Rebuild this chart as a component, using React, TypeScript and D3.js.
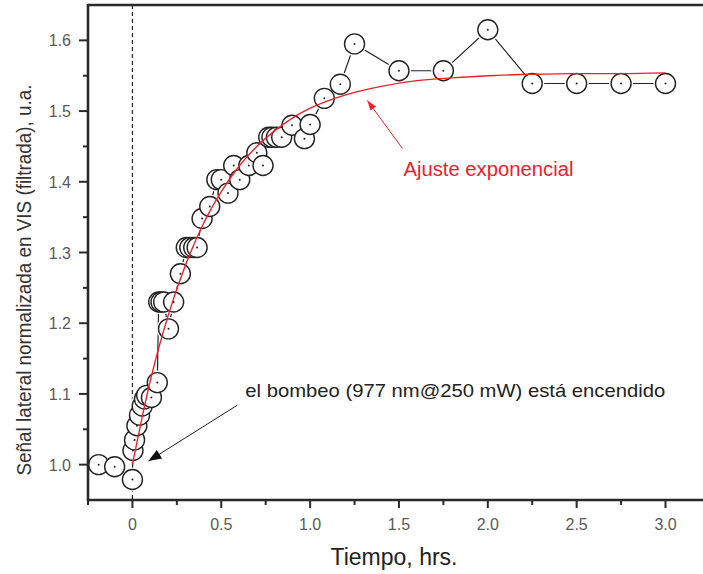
import React from "react";
import * as d3 from "d3";

// ---- data ----
const timeHrs = [
  -0.19, -0.1, 0.0, 0.003, 0.012, 0.025, 0.04, 0.055, 0.068, 0.08, 0.107, 0.14,
  0.148, 0.161, 0.176, 0.203, 0.232, 0.27, 0.303, 0.323, 0.345, 0.364,
  0.392, 0.435, 0.475, 0.5, 0.538, 0.57, 0.604, 0.655, 0.7, 0.735,
  0.767, 0.785, 0.81, 0.84, 0.898, 0.968, 1.0, 1.08, 1.17, 1.25,
  1.5, 1.75, 2.0, 2.25, 2.5, 2.75, 3.0,
];
const signal = [
  1.0, 0.997, 0.979, 1.02, 1.035, 1.055, 1.07, 1.083, 1.093, 1.098, 1.095, 1.116,
  1.23, 1.23, 1.23, 1.192, 1.23, 1.27, 1.307, 1.307, 1.307, 1.307,
  1.348, 1.365, 1.403, 1.403, 1.384, 1.423, 1.403, 1.423, 1.441, 1.423,
  1.463, 1.463, 1.463, 1.463, 1.48, 1.461, 1.481, 1.518, 1.538, 1.595,
  1.557, 1.557, 1.615, 1.539, 1.539, 1.539, 1.539,
];
const fitTime = [0, 0.1, 0.2, 0.3, 0.4, 0.5, 0.6, 0.7, 0.8, 0.9, 1.0, 1.2, 1.4, 1.6, 1.8, 2.0, 2.25, 2.5, 2.75, 3.0];
const fitSignal = [1.0, 1.118, 1.21, 1.283, 1.341, 1.386, 1.422, 1.45, 1.472, 1.49, 1.504, 1.523, 1.535, 1.543, 1.547, 1.55, 1.552, 1.553, 1.553, 1.554];

const xMajorTicks = [0, 0.5, 1.0, 1.5, 2.0, 2.5, 3.0];
const xTickLabels = ["0", "0.5", "1.0", "1.5", "2.0", "2.5", "3.0"];
const xMinorTicks = [-0.25, 0.25, 0.75, 1.25, 1.75, 2.25, 2.75];
const yMajorTicks = [1.0, 1.1, 1.2, 1.3, 1.4, 1.5, 1.6];
const yTickLabels = ["1.0", "1.1", "1.2", "1.3", "1.4", "1.5", "1.6"];
const yMinorTicks = [1.05, 1.15, 1.25, 1.35, 1.45, 1.55];

const xTitle = "Tiempo, hrs.";
const yTitle = "Señal lateral normalizada en VIS (filtrada), u.a.";
const pumpNote = "el bombeo (977 nm@250 mW) está encendido";
const fitNote = "Ajuste exponencial";

const W = 703;
const H = 574;
const FONT = "'Liberation Sans', Arial, Helvetica, sans-serif";

function arrowHead(tx: number, ty: number, fx: number, fy: number, len: number, half: number) {
  const dx = tx - fx;
  const dy = ty - fy;
  const d = Math.sqrt(dx * dx + dy * dy);
  const ux = dx / d;
  const uy = dy / d;
  const bx = tx - ux * len;
  const by = ty - uy * len;
  const px = -uy;
  const py = ux;
  return `M${tx},${ty}L${bx + px * half},${by + py * half}L${bx - px * half},${by - py * half}Z`;
}

export default function App() {
  const x = d3.scaleLinear().domain([-0.25, 3.0]).range([88, 665.5]);
  const y = d3.scaleLinear().domain([0.95, 1.65]).range([500, 5]);
  const left = x(-0.25);
  const top = y(1.65);
  const bottom = y(0.95);
  const right = W;

  const pts = timeHrs.map((t, i) => [x(t), y(signal[i])] as [number, number]);
  const dataLine = d3.line<[number, number]>()(pts) || "";
  const fitLine =
    d3
      .line<number>()
      .x((t) => x(t))
      .y((_, i) => y(fitSignal[i]))
      .curve(d3.curveMonotoneX)(fitTime) || "";

  // annotation anchors in data coordinates
  const pumpTip = [x(0.09), y(1.005)];
  const pumpTail = [x(0.59), y(1.084)];
  const fitTip = [x(1.322), y(1.515)];
  const fitTail = [x(1.52), y(1.447)];

  return (
    <svg
      width={W}
      height={H}
      style={{ position: "absolute", left: 0, top: 0, background: "#fff" }}
      fontFamily={FONT}
    >
      <rect x={0} y={0} width={W} height={H} fill="#fff" />
      {/* dashed line at t=0 */}
      <line x1={x(0)} x2={x(0)} y1={top} y2={bottom} stroke="#222" strokeWidth={1.2} strokeDasharray="4,3" />

      {/* data line */}
      <path d={dataLine} fill="none" stroke="#222" strokeWidth={1.2} />
      {/* halos for gaps */}
      {pts.map((p, i) => (
        <circle key={"h" + i} cx={p[0]} cy={p[1]} r={12} fill="#fff" />
      ))}
      {pts.map((p, i) => (
        <g key={"c" + i}>
          <circle cx={p[0]} cy={p[1]} r={10} fill="#fff" stroke="#222" strokeWidth={1.4} />
          <circle cx={p[0]} cy={p[1]} r={1} fill="#222" />
        </g>
      ))}

      {/* fit */}
      <path d={fitLine} fill="none" stroke="#f0202a" strokeWidth={1.4} />

      {/* axes */}
      <line x1={left} x2={left} y1={top - 1} y2={bottom + 1} stroke="#2a2a2a" strokeWidth={2.6} />
      <line x1={left - 1} x2={right} y1={top} y2={top} stroke="#2a2a2a" strokeWidth={2.6} />
      <line x1={left - 1} x2={right} y1={bottom} y2={bottom} stroke="#2a2a2a" strokeWidth={2.6} />

      {xMajorTicks.map((t, i) => (
        <g key={"xt" + i}>
          <line x1={x(t)} x2={x(t)} y1={bottom} y2={bottom + 8} stroke="#2a2a2a" strokeWidth={2} />
          <text x={x(t)} y={530} textAnchor="middle" fontSize={16} fill="#5a5a5a">
            {xTickLabels[i]}
          </text>
        </g>
      ))}
      {xMinorTicks.map((t, i) => (
        <line key={"xm" + i} x1={x(t)} x2={x(t)} y1={bottom} y2={bottom + 5} stroke="#2a2a2a" strokeWidth={2} />
      ))}
      {yMajorTicks.map((v, i) => (
        <g key={"yt" + i}>
          <line x1={left - 9} x2={left} y1={y(v)} y2={y(v)} stroke="#2a2a2a" strokeWidth={2} />
          <text x={71} y={y(v) + 6} textAnchor="end" fontSize={16} fill="#5a5a5a">
            {yTickLabels[i]}
          </text>
        </g>
      ))}
      {yMinorTicks.map((v, i) => (
        <line key={"ym" + i} x1={left - 5} x2={left} y1={y(v)} y2={y(v)} stroke="#2a2a2a" strokeWidth={2} />
      ))}

      {/* titles */}
      <text x={394} y={565} textAnchor="middle" fontSize={23} fill="#222">
        {xTitle}
      </text>
      <text
        transform={`translate(31,280) rotate(-90)`}
        textAnchor="middle"
        fontSize={20}
        fill="#333"
        textLength={391}
        lengthAdjust="spacingAndGlyphs"
      >
        {yTitle}
      </text>

      {/* annotations */}
      <line x1={pumpTail[0]} y1={pumpTail[1]} x2={pumpTip[0]} y2={pumpTip[1]} stroke="#222" strokeWidth={1} />
      <path d={arrowHead(pumpTip[0], pumpTip[1], pumpTail[0], pumpTail[1], 13, 5)} fill="#111" />
      <text x={x(0.635)} y={y(1.0956)} fontSize={19} fill="#222" textLength={420} lengthAdjust="spacingAndGlyphs">
        {pumpNote}
      </text>

      <line x1={fitTail[0]} y1={fitTail[1]} x2={fitTip[0]} y2={fitTip[1]} stroke="#f0202a" strokeWidth={1} />
      <path d={arrowHead(fitTip[0], fitTip[1], fitTail[0], fitTail[1], 10, 3.5)} fill="#f0202a" />
      <text x={x(1.525)} y={y(1.408)} fontSize={20} fill="#f0202a" textLength={170} lengthAdjust="spacingAndGlyphs">
        {fitNote}
      </text>
    </svg>
  );
}
